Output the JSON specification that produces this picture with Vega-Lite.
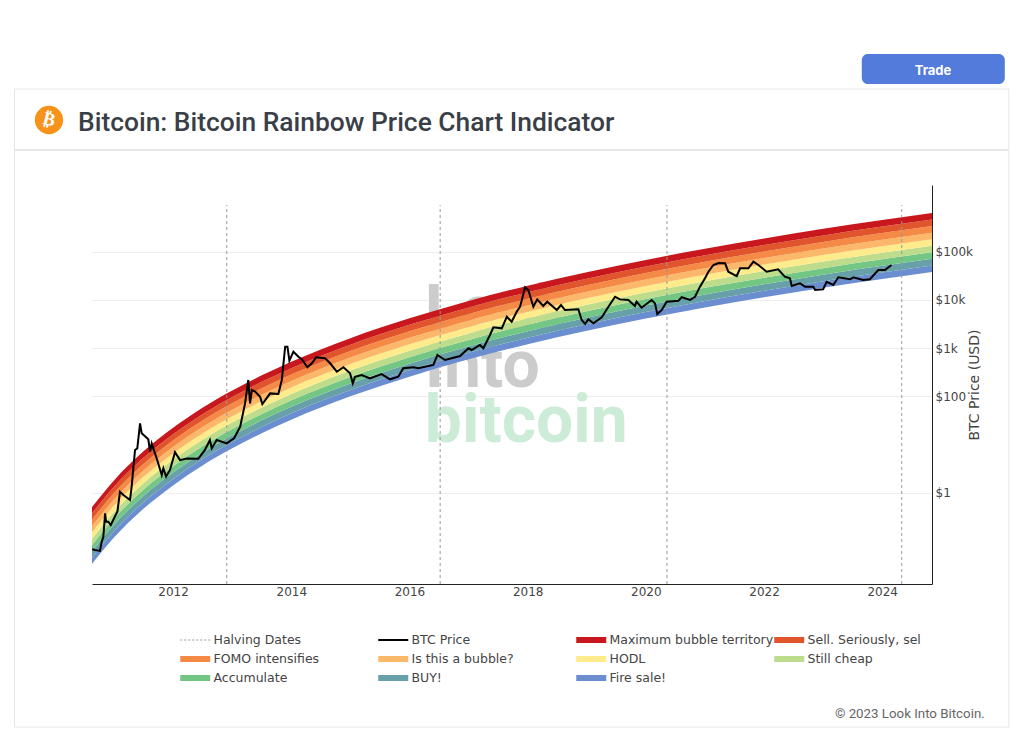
{"$schema":"https://vega.github.io/schema/vega-lite/v6.json","width":840,"height":399,"autosize":"none","padding":{"left":92,"top":185,"right":92,"bottom":148},"background":"white","title":{"text":"Bitcoin: Bitcoin Rainbow Price Chart Indicator","anchor":"start","frame":"group","dx":-14,"offset":-103,"baseline":"alphabetic","font":"Roboto","fontSize":26.4,"fontWeight":500,"color":"#3a3f47"},"config":{"view":{"stroke":null},"font":"DejaVu Sans"},"datasets":{"bands":[
{"date":"2010-08-18","e0":0.0338,"e1":0.0457,"e2":0.0618,"e3":0.0836,"e4":0.1131,"e5":0.153,"e6":0.207,"e7":0.28,"e8":0.379,"e9":0.513},
{"date":"2011-01-01","e0":0.1194,"e1":0.1617,"e2":0.219,"e3":0.2965,"e4":0.401,"e5":0.543,"e6":0.736,"e7":0.996,"e8":1.349,"e9":1.826},
{"date":"2011-07-02","e0":0.471,"e1":0.639,"e2":0.866,"e3":1.174,"e4":1.592,"e5":2.16,"e6":2.93,"e7":3.97,"e8":5.38,"e9":7.3},
{"date":"2012-01-01","e0":1.438,"e1":1.951,"e2":2.648,"e3":3.59,"e4":4.87,"e5":6.62,"e6":8.98,"e7":12.2,"e8":16.5,"e9":22.4},
{"date":"2012-07-01","e0":3.72,"e1":5.05,"e2":6.86,"e3":9.32,"e4":12.66,"e5":17.2,"e6":23.3,"e7":31.7,"e8":43,"e9":58.4},
{"date":"2013-01-01","e0":8.43,"e1":11.46,"e2":15.57,"e3":21.2,"e4":28.8,"e5":39.1,"e6":53.1,"e7":72.2,"e8":98.1,"e9":133},
{"date":"2013-07-02","e0":17.3,"e1":23.5,"e2":32,"e3":43.4,"e4":59,"e5":80.2,"e6":109,"e7":148,"e8":201,"e9":274},
{"date":"2014-01-01","e0":33.1,"e1":45,"e2":61.2,"e3":83.2,"e4":113,"e5":154,"e6":209,"e7":285,"e8":387,"e9":527},
{"date":"2015-01-01","e0":100.9,"e1":137,"e2":187,"e3":254,"e4":346,"e5":471,"e6":641,"e7":873,"e8":1188,"e9":1617},
{"date":"2016-01-01","e0":258,"e1":352,"e2":479,"e3":652,"e4":888,"e5":1210,"e6":1648,"e7":2244,"e8":3057,"e9":4163},
{"date":"2017-01-01","e0":588,"e1":802,"e2":1093,"e3":1490,"e4":2031,"e5":2768,"e6":3773,"e7":5142,"e8":7009,"e9":9553},
{"date":"2018-01-01","e0":1208,"e1":1648,"e2":2248,"e3":3066,"e4":4182,"e5":5704,"e6":7780,"e7":10610,"e8":14480,"e9":19750},
{"date":"2019-01-01","e0":2291,"e1":3127,"e2":4268,"e3":5826,"e4":7953,"e5":10860,"e6":14820,"e7":20230,"e8":27610,"e9":37550},
{"date":"2020-01-01","e0":4118,"e1":5620,"e2":7670,"e3":10470,"e4":14300,"e5":19520,"e6":26640,"e7":36360,"e8":49630,"e9":67750},
{"date":"2021-01-01","e0":7000,"e1":9560,"e2":13060,"e3":17840,"e4":24370,"e5":33290,"e6":45470,"e7":62110,"e8":84850,"e9":115900},
{"date":"2022-01-01","e0":11400,"e1":15570,"e2":21270,"e3":29060,"e4":39700,"e5":54230,"e6":74080,"e7":101200,"e8":138200,"e9":188800},
{"date":"2023-01-01","e0":17910,"e1":24480,"e2":33470,"e3":45750,"e4":62540,"e5":85490,"e6":116900,"e7":159800,"e8":218400,"e9":298500},
{"date":"2024-01-01","e0":27290,"e1":37310,"e2":51000,"e3":69720,"e4":95300,"e5":130300,"e6":178100,"e7":243500,"e8":332800,"e9":455000},
{"date":"2024-11-04","e0":38100,"e1":52080,"e2":71200,"e3":97330,"e4":133000,"e5":181900,"e6":248600,"e7":339900,"e8":464600,"e9":635100}
],"btc":[
{"date":"2010-08-19","price":0.068},{"date":"2010-09-05","price":0.066},{"date":"2010-10-06","price":0.063},{"date":"2010-10-17","price":0.098},{"date":"2010-10-27","price":0.124},{"date":"2010-11-07","price":0.38},{"date":"2010-11-13","price":0.254},{"date":"2010-11-27","price":0.254},{"date":"2010-12-12","price":0.217},{"date":"2011-01-08","price":0.333},{"date":"2011-01-22","price":0.41},{"date":"2011-02-07","price":1.06},{"date":"2011-02-28","price":0.91},{"date":"2011-04-10","price":0.716},{"date":"2011-04-20","price":1.35},{"date":"2011-05-11","price":7.8},{"date":"2011-05-25","price":8.4},{"date":"2011-06-11","price":27.8},{"date":"2011-06-21","price":17.3},{"date":"2011-08-01","price":13},{"date":"2011-08-12","price":7.2},{"date":"2011-08-22","price":10.7},{"date":"2011-09-22","price":5.2},{"date":"2011-10-23","price":2.36},{"date":"2011-11-02","price":3.25},{"date":"2011-11-19","price":2.18},{"date":"2011-12-13","price":3},{"date":"2012-01-13","price":7},{"date":"2012-02-13","price":4.8},{"date":"2012-03-26","price":5.2},{"date":"2012-06-05","price":5.1},{"date":"2012-07-16","price":7.8},{"date":"2012-08-16","price":12.5},{"date":"2012-08-27","price":8.4},{"date":"2012-09-27","price":12.5},{"date":"2012-11-28","price":10.7},{"date":"2013-01-12","price":13.6},{"date":"2013-02-19","price":23.7},{"date":"2013-03-21","price":72},{"date":"2013-04-10","price":220},{"date":"2013-04-21","price":72},{"date":"2013-05-02","price":136},{"date":"2013-05-22","price":126},{"date":"2013-06-22","price":99},{"date":"2013-07-06","price":70},{"date":"2013-08-23","price":116},{"date":"2013-10-13","price":113},{"date":"2013-11-03","price":220},{"date":"2013-11-24","price":1077},{"date":"2013-12-08","price":1077},{"date":"2013-12-20","price":552},{"date":"2014-01-14","price":849},{"date":"2014-02-14","price":668},{"date":"2014-03-07","price":590},{"date":"2014-04-10","price":403},{"date":"2014-05-08","price":488},{"date":"2014-06-03","price":649},{"date":"2014-07-28","price":619},{"date":"2014-08-29","price":488},{"date":"2014-10-09","price":326},{"date":"2014-11-19","price":403},{"date":"2014-12-30","price":303},{"date":"2015-01-16","price":188},{"date":"2015-01-30","price":257},{"date":"2015-03-12","price":279},{"date":"2015-05-02","price":238},{"date":"2015-07-13","price":292},{"date":"2015-09-03","price":227},{"date":"2015-10-24","price":257},{"date":"2015-11-24","price":384},{"date":"2016-01-25","price":403},{"date":"2016-02-25","price":384},{"date":"2016-05-28","price":450},{"date":"2016-06-22","price":724},{"date":"2016-08-08","price":571},{"date":"2016-11-09","price":690},{"date":"2016-12-31","price":998},{"date":"2017-01-20","price":920},{"date":"2017-03-12","price":1167},{"date":"2017-04-02","price":998},{"date":"2017-05-13","price":1883},{"date":"2017-06-03","price":2716},{"date":"2017-07-25","price":2590},{"date":"2017-08-25","price":4508},{"date":"2017-09-24","price":3548},{"date":"2017-10-25","price":5715},{"date":"2017-11-15","price":7261},{"date":"2017-12-16","price":18300},{"date":"2018-01-05","price":16100},{"date":"2018-02-05","price":7261},{"date":"2018-03-01","price":10300},{"date":"2018-04-07","price":7500},{"date":"2018-05-02","price":9230},{"date":"2018-06-30","price":6200},{"date":"2018-07-26","price":7870},{"date":"2018-08-20","price":6200},{"date":"2018-11-10","price":6410},{"date":"2018-12-01","price":3850},{"date":"2018-12-22","price":3184},{"date":"2019-01-11","price":3980},{"date":"2019-02-11","price":3290},{"date":"2019-04-04","price":4375},{"date":"2019-05-15","price":7260},{"date":"2019-06-25","price":11700},{"date":"2019-07-25","price":10300},{"date":"2019-09-15","price":10000},{"date":"2019-10-26","price":7520},{"date":"2019-11-05","price":9230},{"date":"2019-12-06","price":6920},{"date":"2020-02-06","price":10000},{"date":"2020-02-27","price":8500},{"date":"2020-03-12","price":5130},{"date":"2020-04-08","price":6200},{"date":"2020-05-09","price":9230},{"date":"2020-07-20","price":9660},{"date":"2020-08-10","price":11400},{"date":"2020-10-01","price":10000},{"date":"2020-10-31","price":11700},{"date":"2020-12-01","price":18900},{"date":"2021-01-01","price":28200},{"date":"2021-01-22","price":38600},{"date":"2021-02-22","price":53100},{"date":"2021-03-25","price":58400},{"date":"2021-05-05","price":57700},{"date":"2021-05-25","price":38600},{"date":"2021-07-16","price":31400},{"date":"2021-08-06","price":45400},{"date":"2021-09-26","price":45400},{"date":"2021-10-27","price":62200},{"date":"2021-11-27","price":53100},{"date":"2022-01-17","price":38600},{"date":"2022-03-29","price":43300},{"date":"2022-05-09","price":30400},{"date":"2022-06-10","price":28200},{"date":"2022-06-21","price":19500},{"date":"2022-08-11","price":22200},{"date":"2022-09-11","price":18900},{"date":"2022-11-01","price":18900},{"date":"2022-11-12","price":16100},{"date":"2023-01-01","price":16700},{"date":"2023-01-23","price":23900},{"date":"2023-03-05","price":20500},{"date":"2023-04-05","price":29500},{"date":"2023-06-17","price":26900},{"date":"2023-07-07","price":29500},{"date":"2023-09-05","price":26000},{"date":"2023-10-17","price":26900},{"date":"2023-12-08","price":41900},{"date":"2024-01-18","price":41900},{"date":"2024-02-28","price":53100}
],"halvings":[{"date":"2012-11-28","low":0.013,"high":931000},{"date":"2016-07-09","low":0.013,"high":931000},{"date":"2020-05-11","low":0.013,"high":931000},{"date":"2024-05-01","low":0.013,"high":931000}],"watermark":[{"date":"2016-04-05","price":2170,"label":"Look","group":"grey"},{"date":"2016-04-05","price":160,"label":"Into","group":"grey"},{"date":"2016-04-05","price":11.6,"label":"bitcoin","group":"green"}]},
"layer":[
{"data":{"values":[{"date":"2009-04-26","date2":"2026-02-22","low":0.0000141,"high":236000000}]},"mark":{"type":"rect","filled":false,"stroke":"#e6e6e6","strokeWidth":1,"clip":false},"encoding":{"x":{"field":"date","type":"temporal","scale":{"domain":["2010-08-18","2024-11-04"]},"axis":{"values":["2012-01-01","2014-01-01","2016-01-01","2018-01-01","2020-01-01","2022-01-01","2024-01-01"],"format":"%Y","title":null,"grid":false,"ticks":false,"labelFontSize":12,"labelColor":"#444444","labelPadding":2,"domainColor":"#222222","domainWidth":1,"labelFlush":false}},"x2":{"field":"date2"},"y":{"field":"low","type":"quantitative","scale":{"type":"log","domain":[0.013,2417000],"nice":false},"axis":{"orient":"right","values":[1,100,1000,10000,100000],"labelExpr":"datum.value>=1000?'$'+datum.value/1000+'k':'$'+datum.value","title":"BTC Price (USD)","titleAngle":270,"titleFontWeight":"normal","titleFontSize":14,"titleColor":"#444444","titlePadding":9,"grid":true,"gridColor":"#eeeeee","ticks":false,"labelFontSize":12,"labelColor":"#444444","labelPadding":3,"domainColor":"#222222","domainWidth":1}},"y2":{"field":"high"}}},
{"data":{"values":[{"date":"2009-04-26","date2":"2026-02-22","price":12850000}]},"mark":{"type":"rule","stroke":"#e6e6e6","strokeWidth":2,"clip":false},"encoding":{"x":{"field":"date","type":"temporal"},"x2":{"field":"date2"},"y":{"field":"price","type":"quantitative"}}},
{"data":{"values":[{"date":"2023-08-28","date2":"2026-01-28","low":300000000,"high":1250000000}]},"mark":{"type":"rect","fill":"#527bdb","cornerRadius":6,"clip":false},"encoding":{"x":{"field":"date","type":"temporal"},"x2":{"field":"date2"},"y":{"field":"low","type":"quantitative"},"y2":{"field":"high"}}},
{"data":{"values":[{"date":"2024-11-10","price":550000000,"label":"Trade"}]},"mark":{"type":"text","font":"Inter","fontWeight":"bold","fontSize":13,"fill":"white","clip":false},"encoding":{"x":{"field":"date","type":"temporal"},"y":{"field":"price","type":"quantitative"},"text":{"field":"label"}}},
{"data":{"values":[{"date":"2009-11-25","price":53700000}]},"mark":{"type":"point","filled":true,"shape":"circle","size":800,"fill":"#f7931a","opacity":1,"clip":false},"encoding":{"x":{"field":"date","type":"temporal"},"y":{"field":"price","type":"quantitative"}}},
{"data":{"values":[{"date":"2009-11-25","price":53700000,"label":"₿"}]},"mark":{"type":"text","font":"DejaVu Sans","fontWeight":"bold","fontSize":18,"angle":14,"fill":"white","clip":false},"encoding":{"x":{"field":"date","type":"temporal"},"y":{"field":"price","type":"quantitative"},"text":{"field":"label"}}},
{"data":{"values":[{"date":"2025-09-26","price":0.0000263,"label":"© 2023 Look Into Bitcoin."}]},"mark":{"type":"text","font":"Roboto","fontSize":13.3,"align":"right","fill":"#666666","clip":false},"encoding":{"x":{"field":"date","type":"temporal"},"y":{"field":"price","type":"quantitative"},"text":{"field":"label"}}},
{"data":{"name":"watermark"},"mark":{"type":"text","font":"Roboto","fontWeight":"bold","fontSize":66,"align":"left","baseline":"alphabetic","clip":false},"encoding":{"x":{"field":"date","type":"temporal"},"y":{"field":"price","type":"quantitative"},"text":{"field":"label"},"fill":{"field":"group","type":"nominal","legend":null,"scale":{"domain":["grey","green"],"range":["#cccccc","#ccecd7"]}}}},
{"data":{"name":"bands"},"mark":{"type":"area","interpolate":"monotone"},"encoding":{"x":{"field":"date","type":"temporal"},"y":{"field":"e0","type":"quantitative"},"y2":{"field":"e1"},"color":{"datum":"Fire sale!","type":"nominal","scale":{"domain":["Halving Dates","BTC Price","Maximum bubble territory","Sell. Seriously, sel","FOMO intensifies","Is this a bubble?","HODL","Still cheap","Accumulate","BUY!","Fire sale!"],"range":["#999999","#000000","#c8171d","#e0552c","#f48a45","#fbb86a","#fdeb8c","#bddc8c","#74c685","#67a0a8","#6a8ecf"]},"legend":{"title":null,"orient":"none","direction":"horizontal","legendX":88,"legendY":448,"columns":4,"gridAlign":"all","columnPadding":-14,"rowPadding":5,"clipHeight":14,"symbolType":"stroke","symbolSize":900,"symbolOffset":9,"labelOffset":12,"labelFontSize":12.5,"labelColor":"#444444","labelLimit":200,"encode":{"symbols":{"update":{"fill":{"value":"transparent"},"stroke":{"scale":"color","field":"value"},"strokeWidth":{"signal":"datum.value==='BTC Price'?2:datum.value==='Halving Dates'?1:6"},"strokeDash":{"signal":"datum.value==='Halving Dates'?[2,2]:[]"},"opacity":{"value":1}}}}}}}},
{"data":{"name":"bands"},"mark":{"type":"area","interpolate":"monotone"},"encoding":{"x":{"field":"date","type":"temporal"},"y":{"field":"e1","type":"quantitative"},"y2":{"field":"e2"},"color":{"datum":"BUY!","type":"nominal"}}},
{"data":{"name":"bands"},"mark":{"type":"area","interpolate":"monotone"},"encoding":{"x":{"field":"date","type":"temporal"},"y":{"field":"e2","type":"quantitative"},"y2":{"field":"e3"},"color":{"datum":"Accumulate","type":"nominal"}}},
{"data":{"name":"bands"},"mark":{"type":"area","interpolate":"monotone"},"encoding":{"x":{"field":"date","type":"temporal"},"y":{"field":"e3","type":"quantitative"},"y2":{"field":"e4"},"color":{"datum":"Still cheap","type":"nominal"}}},
{"data":{"name":"bands"},"mark":{"type":"area","interpolate":"monotone"},"encoding":{"x":{"field":"date","type":"temporal"},"y":{"field":"e4","type":"quantitative"},"y2":{"field":"e5"},"color":{"datum":"HODL","type":"nominal"}}},
{"data":{"name":"bands"},"mark":{"type":"area","interpolate":"monotone"},"encoding":{"x":{"field":"date","type":"temporal"},"y":{"field":"e5","type":"quantitative"},"y2":{"field":"e6"},"color":{"datum":"Is this a bubble?","type":"nominal"}}},
{"data":{"name":"bands"},"mark":{"type":"area","interpolate":"monotone"},"encoding":{"x":{"field":"date","type":"temporal"},"y":{"field":"e6","type":"quantitative"},"y2":{"field":"e7"},"color":{"datum":"FOMO intensifies","type":"nominal"}}},
{"data":{"name":"bands"},"mark":{"type":"area","interpolate":"monotone"},"encoding":{"x":{"field":"date","type":"temporal"},"y":{"field":"e7","type":"quantitative"},"y2":{"field":"e8"},"color":{"datum":"Sell. Seriously, sel","type":"nominal"}}},
{"data":{"name":"bands"},"mark":{"type":"area","interpolate":"monotone"},"encoding":{"x":{"field":"date","type":"temporal"},"y":{"field":"e8","type":"quantitative"},"y2":{"field":"e9"},"color":{"datum":"Maximum bubble territory","type":"nominal"}}},
{"data":{"name":"halvings"},"mark":{"type":"rule","strokeWidth":1,"strokeDash":[3,3]},"encoding":{"x":{"field":"date","type":"temporal"},"y":{"field":"low","type":"quantitative"},"y2":{"field":"high"},"color":{"datum":"Halving Dates","type":"nominal"}}},
{"data":{"name":"btc"},"mark":{"type":"line","strokeWidth":2},"encoding":{"x":{"field":"date","type":"temporal"},"y":{"field":"price","type":"quantitative"},"color":{"datum":"BTC Price","type":"nominal"}}}
]}
